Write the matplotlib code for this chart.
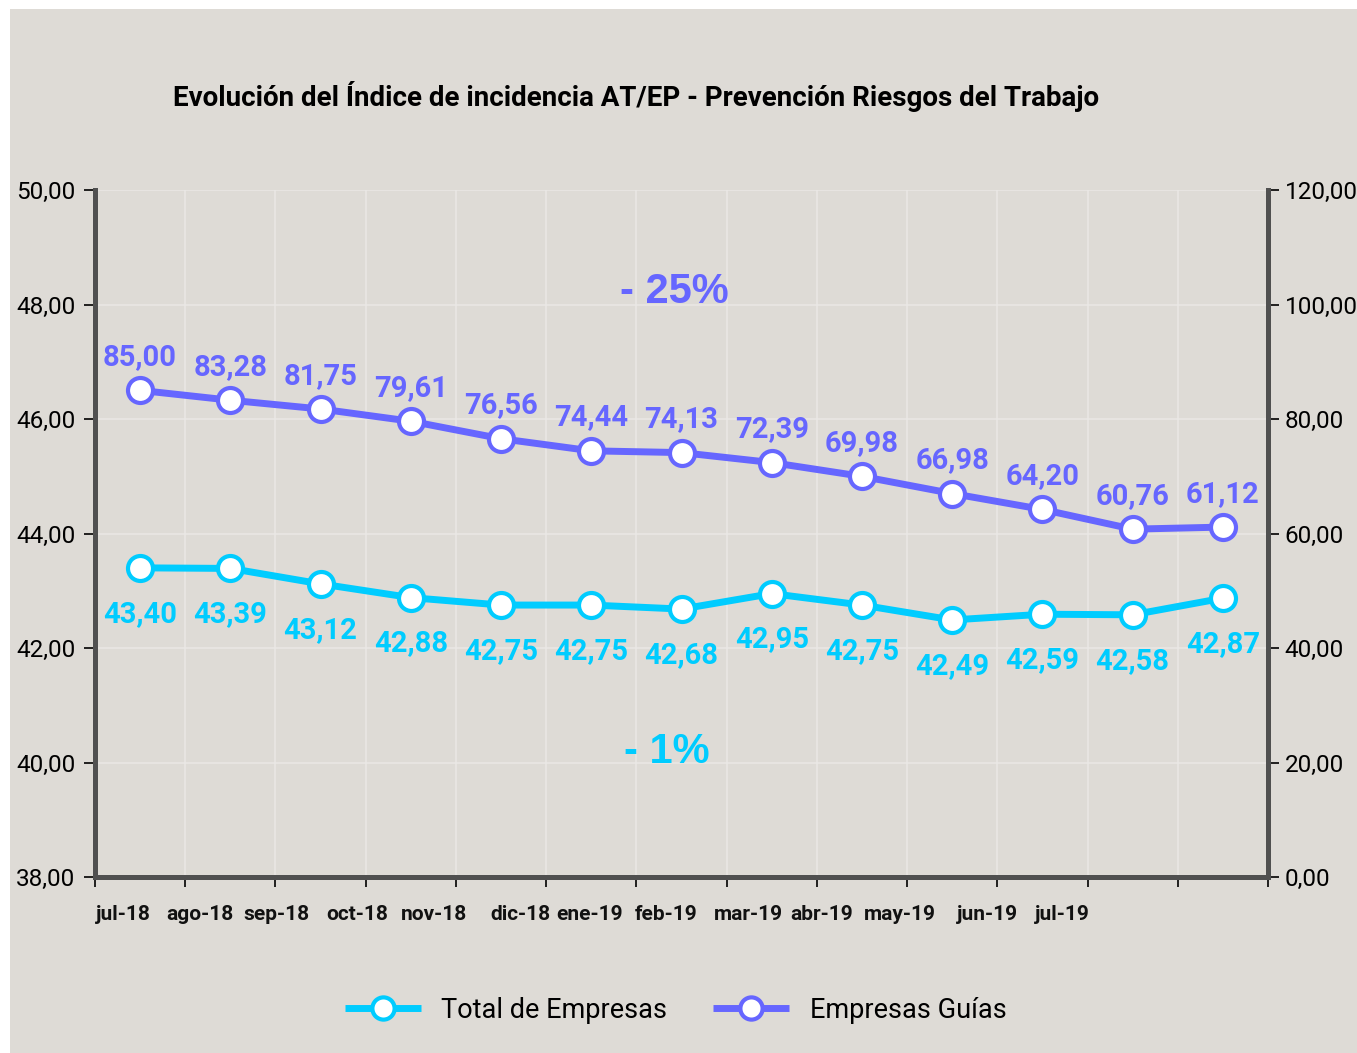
import matplotlib
matplotlib.use("Agg")
import matplotlib.pyplot as plt
from matplotlib import font_manager
from matplotlib.lines import Line2D
from matplotlib.patches import Rectangle

# ---- data ----
months = ["jul-18", "ago-18", "sep-18", "oct-18", "nov-18", "dic-18", "ene-19",
          "feb-19", "mar-19", "abr-19", "may-19", "jun-19", "jul-19"]
total_empresas = [43.40, 43.39, 43.12, 42.88, 42.75, 42.75, 42.68,
                  42.95, 42.75, 42.49, 42.59, 42.58, 42.87]
empresas_guias = [85.00, 83.28, 81.75, 79.61, 76.56, 74.44, 74.13,
                  72.39, 69.98, 66.98, 64.20, 60.76, 61.12]
left_ticks = [38, 40, 42, 44, 46, 48, 50]
right_ticks = [0, 20, 40, 60, 80, 100, 120]
change_guias = "- 25%"
change_total = "- 1%"

# ---- style ----
names = {f.name for f in font_manager.fontManager.ttflist}
NARROW = "Liberation Sans Narrow" if "Liberation Sans Narrow" in names else "Roboto"
WIDE = "Liberation Sans"
CYAN = "#00CCFF"
PURPLE = "#6666FF"
BG = "#dedbd6"
GRID = "#eae8e5"
SPINE = "#505050"

W, H = 1357, 1053
fig = plt.figure(figsize=(W / 100, H / 100), dpi=100, facecolor="white")
fig.patches.append(Rectangle((10 / W, 0), 1 - 10 / W, 1 - 9 / H,
                             transform=fig.transFigure, facecolor=BG,
                             edgecolor="none", zorder=-10))

x0, x1, y0, y1 = 95, 1268, 190, 877
ax = fig.add_axes([x0 / W, 1 - y1 / H, (x1 - x0) / W, (y1 - y0) / H])
ax.set_facecolor(BG)
ax2 = ax.twinx()

n = len(months)
xs = list(range(n))
ax.set_xlim(-0.5, n - 0.5)
ax.set_ylim(left_ticks[0], left_ticks[-1])
ax2.set_ylim(right_ticks[0], right_ticks[-1])

# grid
ax.set_yticks(left_ticks)
ax.set_xticks([i - 0.5 for i in range(n + 1)])
ax.grid(True, color=GRID, linewidth=1.1, zorder=0)
ax.set_axisbelow(True)

for a in (ax, ax2):
    a.spines["top"].set_visible(False)
    for s in ("left", "right", "bottom"):
        a.spines[s].set_color(SPINE)
        a.spines[s].set_linewidth(3.6)

ax.set_yticklabels([f"{v:.2f}".replace(".", ",") for v in left_ticks],
                   fontfamily=NARROW, fontsize=17.5)
ax2.set_yticks(right_ticks)
ax2.set_yticklabels([f"{v:.2f}".replace(".", ",") for v in right_ticks],
                    fontfamily=NARROW, fontsize=17.5)
ax.tick_params(axis="y", direction="out", length=8, width=1.2, color="black", pad=6)
ax2.tick_params(axis="y", direction="out", length=8, width=1.2, color="black", pad=4)
ax.tick_params(axis="x", direction="out", length=7, width=1.2, color="black",
               labelbottom=False)

# month labels under the axis
label_px = [123, 200, 276, 357, 434, 520, 590, 666, 748, 822, 900, 987, 1062]
for name, px in zip(months, label_px):
    xd = (px - x0) / (x1 - x0) * n - 0.5
    ax.annotate(name, (xd, 0), xycoords=("data", "axes fraction"),
                xytext=(0, -27), textcoords="offset points",
                ha="center", va="center", fontfamily=NARROW,
                fontweight="bold", fontsize=15, color="#111111")

mk = dict(marker="o", markersize=18, markerfacecolor="white",
          markeredgewidth=3.0, linewidth=5, solid_capstyle="round")

ln_t, = ax.plot(xs, total_empresas, color=CYAN, markeredgecolor=CYAN,
                zorder=5, clip_on=False, **mk)
ln_g, = ax2.plot(xs, empresas_guias, color=PURPLE, markeredgecolor=PURPLE,
                 zorder=5, clip_on=False, **mk)

for x, v in zip(xs, total_empresas):
    ax.annotate(f"{v:.2f}".replace(".", ","), (x, v), xytext=(0, -33),
                textcoords="offset points", ha="center", va="center",
                fontfamily=NARROW, fontweight="bold", fontsize=21, color=CYAN)
for x, v in zip(xs, empresas_guias):
    ax2.annotate(f"{v:.2f}".replace(".", ","), (x, v), xytext=(0, 24),
                 textcoords="offset points", ha="center", va="center",
                 fontfamily=NARROW, fontweight="bold", fontsize=21, color=PURPLE)

ax.text(0.4936, 0.851, change_guias, transform=ax.transAxes, ha="center",
        va="center", fontfamily=WIDE, fontweight="bold", fontsize=30, color=PURPLE)
ax.text(0.4876, 0.182, change_total, transform=ax.transAxes, ha="center",
        va="center", fontfamily=WIDE, fontweight="bold", fontsize=30, color=CYAN)

fig.text(0.469, 1 - 97 / H,
         "Evolución del Índice de incidencia AT/EP - Prevención Riesgos del Trabajo",
         ha="center", va="center", fontfamily=NARROW, fontweight="bold",
         fontsize=20, color="black")

handles = [Line2D([], [], color=CYAN, markeredgecolor=CYAN, **mk),
           Line2D([], [], color=PURPLE, markeredgecolor=PURPLE, **mk)]
for h in handles:
    h.set_markersize(16)
    h.set_solid_capstyle("butt")
fig.legend(handles, ["Total de Empresas", "Empresas Guías"],
           loc="center", bbox_to_anchor=(0.498, 1 - 1010 / H), ncol=2,
           frameon=False, prop={"family": NARROW, "size": 19.5},
           handlelength=2.8, columnspacing=1.7, handletextpad=0.75)

fig.savefig("out.png", dpi=100, facecolor="white")
